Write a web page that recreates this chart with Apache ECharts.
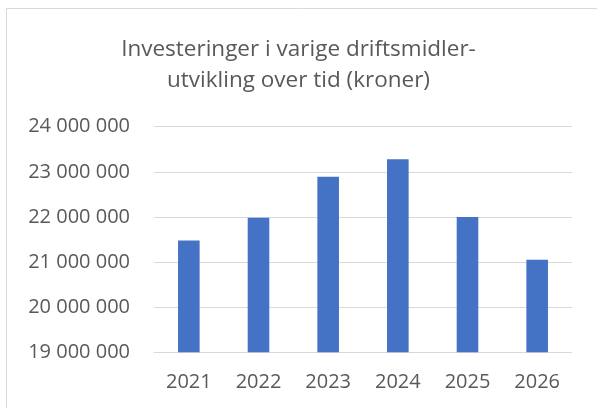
<!DOCTYPE html>
<html>
<head>
<meta charset="utf-8">
<script src="https://cdn.jsdelivr.net/npm/echarts@6/dist/echarts.min.js"></script>
<style>
html,body{margin:0;padding:0;background:#fff;}
#c{width:597px;height:408px;}
</style>
</head>
<body>
<div id="c"></div>
<script>
const titleText = "Investeringer i varige driftsmidler-\nutvikling over tid (kroner)";
const years = ["2021", "2022", "2023", "2024", "2025", "2026"];
const investments = [21480000, 21980000, 22890000, 23280000, 22000000, 21050000];
const yMin = 19000000;
const yMax = 24000000;
const yStep = 1000000;

function fmt(v) {
  return String(Math.round(v)).replace(/\B(?=(\d{3})+(?!\d))/g, " ");
}

const chart = echarts.init(document.getElementById('c'), null, {renderer: 'canvas'});
const font = "'Open Sans', sans-serif";
chart.setOption({
  animation: false,
  backgroundColor: '#fff',
  textStyle: {fontFamily: font},
  graphic: [{
    type: 'rect',
    shape: {x: 6.5, y: 8.5, width: 700, height: 500},
    style: {fill: 'none', stroke: '#d9d9d9', lineWidth: 1}
  }],
  title: {
    text: titleText,
    left: 'center',
    top: 29,
    textStyle: {fontFamily: font, fontSize: 22.5, fontWeight: 'normal', color: '#595959', lineHeight: 31}
  },
  grid: {left: 154, right: 25, top: 126.7, bottom: 55.7, containLabel: false},
  xAxis: {
    type: 'category',
    data: years,
    axisLine: {show: true, lineStyle: {color: '#d9d9d9', width: 1}},
    axisTick: {show: false},
    axisLabel: {color: '#595959', fontSize: 20, fontFamily: font, margin: 20}
  },
  yAxis: {
    type: 'value',
    min: yMin,
    max: yMax,
    interval: yStep,
    axisLine: {show: false},
    axisTick: {show: false},
    splitLine: {lineStyle: {color: '#d9d9d9', width: 1}},
    axisLabel: {color: '#595959', fontSize: 20, fontFamily: font, margin: 24, formatter: fmt}
  },
  series: [{
    type: 'bar',
    data: investments,
    barWidth: '31%',
    itemStyle: {color: '#4472C4'}
  }]
});
</script>
</body>
</html>
